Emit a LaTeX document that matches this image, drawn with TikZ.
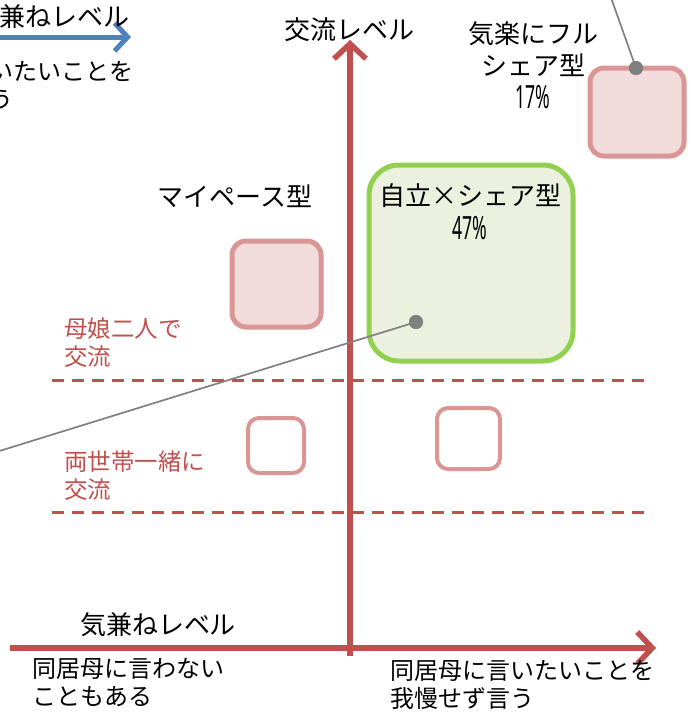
\documentclass[tikz,border=0pt]{standalone}
\usepackage{fontspec}
\setmainfont{Noto Sans CJK JP}
\newfontfamily\numfont[FakeStretch=0.55]{Noto Sans}
\usetikzlibrary{arrows.meta}
\definecolor{axisred}{HTML}{C0504D}
\definecolor{pinkfill}{HTML}{F2DCDB}
\definecolor{pinkline}{HTML}{D99694}
\definecolor{greenfill}{HTML}{EBF1DE}
\definecolor{greenline}{HTML}{92D050}
\definecolor{bluearrow}{HTML}{4F81BD}
\definecolor{dotgray}{HTML}{808080}
\tikzset{
  axisline/.style={draw=axisred, line width=5.5pt, -{Straight Barb[length=15pt,width=32pt,line width=5.5pt]}},
  levelline/.style={draw=axisred, line width=3pt, dash pattern=on 12pt off 8pt},
  pinkbox/.style={draw=pinkline, fill=pinkfill, line width=5pt, rounded corners=14pt},
  whitebox/.style={draw=pinkline, fill=white, line width=4pt, rounded corners=11pt},
  greenbox/.style={draw=greenline, fill=greenfill, line width=5pt, rounded corners=30pt},
  bigtxt/.style={inner sep=0pt, font=\fontsize{26}{32}\selectfont, align=center},
  smalltxt/.style={inner sep=0pt, font=\fontsize{24}{28}\selectfont, align=left},
  redtxt/.style={inner sep=0pt, text=axisred, font=\fontsize{23.5}{28}\selectfont, align=left},
  pcttxt/.style={inner sep=0pt, font={\numfont\fontsize{32}{34}\selectfont}},
  graydot/.style={circle, fill=dotgray, inner sep=0pt, minimum size=14pt},
  grayline/.style={draw=dotgray, line width=1.7pt}
}
\begin{document}
\begin{tikzpicture}[x=1pt,y=-1pt]
\useasboundingbox (0,0) rectangle (691,713);

% dashed level lines
\coordinate (d1a) at (52,380); \coordinate (d1b) at (652,380);
\coordinate (d2a) at (52,512); \coordinate (d2b) at (652,512);
\draw[levelline] (d1a) -- (d1b);
\draw[levelline] (d2a) -- (d2b);

% axes
\coordinate (vbot) at (350,656); \coordinate (vtop) at (350,40);
\coordinate (hleft) at (10,648); \coordinate (hright) at (656,648);
\draw[axisline] (vbot) -- (vtop);
\draw[axisline] (hleft) -- (hright);

% blue arrow (legend, clipped at the picture's edge)
\coordinate (bleft) at (-40,37); \coordinate (bright) at (131,37);
\draw[draw=bluearrow, line width=5pt, -{Straight Barb[length=13pt,width=28pt,line width=5pt]}] (bleft) -- (bright);
\node[bigtxt, anchor=east] (tl1) at (130,17) {気兼ねレベル};
\node[smalltxt, anchor=north west] (tl2) at (-131,61) {同居母に言いたいことを\\我慢せず言う};

% axis labels
\node[bigtxt] (ylabel) at (349,30) {交流レベル};
\node[bigtxt] (xlabel) at (158,625) {気兼ねレベル};
\node[smalltxt, anchor=north west] (xl1) at (32,658) {同居母に言わない\\こともある};
\node[smalltxt, anchor=north west] (xl2) at (390,660) {同居母に言いたいことを\\我慢せず言う};

% red level labels
\node[redtxt, anchor=north west] (r1) at (64,318) {母娘二人で\\交流};
\node[redtxt, anchor=north west] (r2) at (64,451) {両世帯一緒に\\交流};

% boxes
\node[pinkbox, minimum width=89pt, minimum height=86pt] (mypace) at (276.5,284) {};
\node[pinkbox, minimum width=94pt, minimum height=88pt] (kiraku) at (637,112) {};
\node[whitebox, minimum width=56pt, minimum height=55pt] (w1) at (276,445.5) {};
\node[whitebox, minimum width=63pt, minimum height=61pt] (w2) at (468.5,438.5) {};
\node[greenbox, minimum width=204pt, minimum height=196pt] (jiritsu) at (471,263) {};

% titles
\node[bigtxt] (t1) at (235,196) {マイペース型};
\node[bigtxt] (t2) at (470,196) {自立×シェア型};
\node[pcttxt] (p2) at (470,228) {47\%};
\node[bigtxt] (t3) at (533,49) {気楽にフル\\シェア型};
\node[pcttxt] (p3) at (533,97) {17\%};

% gray leader lines
\node[graydot] (dot1) at (416,322) {};
\node[graydot] (dot2) at (636,68) {};
\coordinate (end1) at (-20,457);
\coordinate (end2) at (609,-8);
\draw[grayline] (dot1.center) -- (end1);
\draw[grayline] (dot2.center) -- (end2);
\node[graydot] at (dot1) {};
\node[graydot] at (dot2) {};
\end{tikzpicture}
\end{document}
